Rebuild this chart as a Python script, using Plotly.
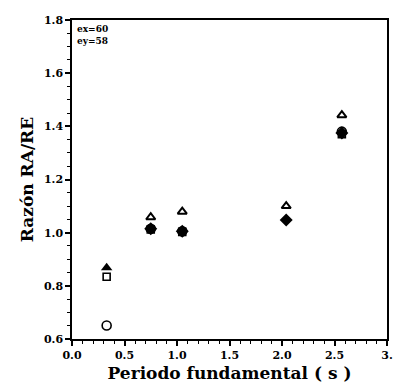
import plotly.graph_objects as go

# Data
x_tri_fill = [0.33]
y_tri_fill = [0.868]

x_tri_open = [0.75, 1.05, 2.04, 2.57]
y_tri_open = [1.058, 1.079, 1.100, 1.442]

x_diamond = [0.75, 1.05, 2.04, 2.57]
y_diamond = [1.015, 1.005, 1.048, 1.375]

x_square = [0.33, 0.75, 1.05, 2.57]
y_square = [0.834, 1.012, 1.003, 1.370]

x_circle = [0.33, 0.75, 1.05, 2.57]
y_circle = [0.651, 1.015, 1.005, 1.380]

x_tickvals = [0.0, 0.5, 1.0, 1.5, 2.0, 2.5, 3.0]
x_ticktext = ["0.0", "0.5", "1.0", "1.5", "2.0", "2.5", "3."]
y_tickvals = [0.6, 0.8, 1.0, 1.2, 1.4, 1.6, 1.8]
y_ticktext = ["0.6", "0.8", "1.0", "1.2", "1.4", "1.6", "1.8"]

FONT = "DejaVu Serif"
fig = go.Figure()

def add(x, y, symbol, size, width=1.6):
    fig.add_trace(go.Scatter(x=x, y=y, mode="markers",
                             marker=dict(symbol=symbol, size=size, color="black",
                                         line=dict(color="black", width=width)),
                             showlegend=False))

add(x_circle, y_circle, "circle-open", 9)
add(x_square, y_square, "square-open", 7)
add(x_diamond, y_diamond, "diamond", 10, 0)
add(x_tri_open, y_tri_open, "triangle-up-open", 8, 2)
add(x_tri_fill, y_tri_fill, "triangle-up", 10, 0)

axis_common = dict(showgrid=False, zeroline=False, showline=True, linecolor="black",
                   linewidth=1.5, mirror=True, ticks="outside", ticklen=5,
                   tickwidth=1.5, tickcolor="black", ticklabeloverflow="allow",
                   tickfont=dict(family=FONT, size=11, color="black", weight="bold"))

fig.update_xaxes(range=[0, 3], tickvals=x_tickvals, ticktext=x_ticktext,
                 minor=dict(dtick=0.1, ticks="outside", ticklen=3, tickwidth=1.2, tickcolor="black"),
                 title=dict(text="Periodo fundamental ( s )", standoff=7,
                            font=dict(family=FONT, size=17, color="black", weight="bold")),
                 **axis_common)
fig.update_yaxes(range=[0.6, 1.8], tickvals=y_tickvals, ticktext=y_ticktext,
                 minor=dict(dtick=0.05, ticks="outside", ticklen=3, tickwidth=1.2, tickcolor="black"),
                 title=dict(text="Razón RA/RE", standoff=6,
                            font=dict(family=FONT, size=17, color="black", weight="bold")),
                 **axis_common)

fig.add_annotation(xref="paper", yref="paper", x=0.01, y=0.995, xanchor="left", yanchor="top",
                   text="ex=60<br>ey=58", showarrow=False, align="left",
                   font=dict(family=FONT, size=9, color="black", weight="bold"))

fig.update_layout(width=395, height=383, plot_bgcolor="white", paper_bgcolor="white",
                  margin=dict(l=72, r=2, t=20, b=44))

fig.write_html("out.html")
